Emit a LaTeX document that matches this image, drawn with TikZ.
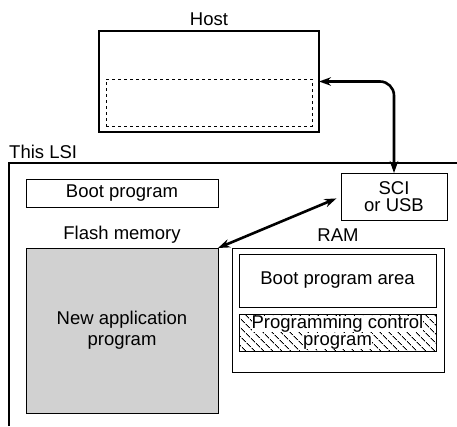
\documentclass[tikz,border=0pt]{standalone}
\usepackage{fontspec}
\setmainfont{Liberation Sans}
\usetikzlibrary{arrows.meta,patterns.meta}

\tikzset{
  box/.style={draw, line width=1pt, inner sep=0pt, outer sep=0pt},
  thickbox/.style={box, line width=2.4pt},
  conn/.style={line width=2.6pt, {Stealth[length=12pt,width=8.5pt]}-{Stealth[length=12pt,width=8.5pt]}},
  hatch/.style={pattern={Lines[angle=-45,distance=6.5pt,line width=0.9pt]}},
  progtext/.style={fill=white, inner sep=0pt, text height=12.5pt, text depth=3.5pt},
}

\begin{document}
\begin{tikzpicture}[x=1pt, y=-1pt, font=\fontsize{18.5}{17}\selectfont]
\useasboundingbox (0,0) rectangle (457,426);

% host side
\node (hostlbl) at (209,19) {Host};
\node[thickbox, minimum width=220pt, minimum height=101pt] (host) at (209,81.5) {};
\node[box, dashed, minimum width=206pt, minimum height=47pt] (hostarea) at (209,102.5) {};

% the LSI
\draw[line width=2.4pt] (9,426) -- (9,163) -- (457,163);
\node[anchor=west, inner sep=0pt] (lsilbl) at (9,152) {This LSI};

\node[box, minimum width=192pt, minimum height=28pt] (boot) at (122,193) {Boot program};
\node[box, minimum width=106pt, minimum height=47pt, align=center] (sci) at (394,196.5) {SCI\\or USB};

\node (flashlbl) at (122,235) {Flash memory};
\node[box, fill=black!18, minimum width=192pt, minimum height=165pt, align=center,
  font=\fontsize{18.5}{21}\selectfont] (flash) at (122,330.5) {New application\\program};

\node (ramlbl) at (338,235) {RAM};
\node[box, minimum width=212pt, minimum height=124pt] (ram) at (338,310) {};
\node[box, minimum width=197pt, minimum height=53pt] (bootarea) at (337.5,280.5) {Boot program area};
\node[box, hatch, minimum width=197pt, minimum height=37pt] (prog) at (337.5,332.5) {};
\node[progtext] (progtop) at (337.5,324) {Programming control};
\node[progtext] (progbot) at (337.5,341) {program};

% connections
\draw[conn, rounded corners=14pt] (host.east) -| (sci.north);
\draw[conn, shorten <=5pt] (sci.west) -- (flash.north east);
\end{tikzpicture}
\end{document}
